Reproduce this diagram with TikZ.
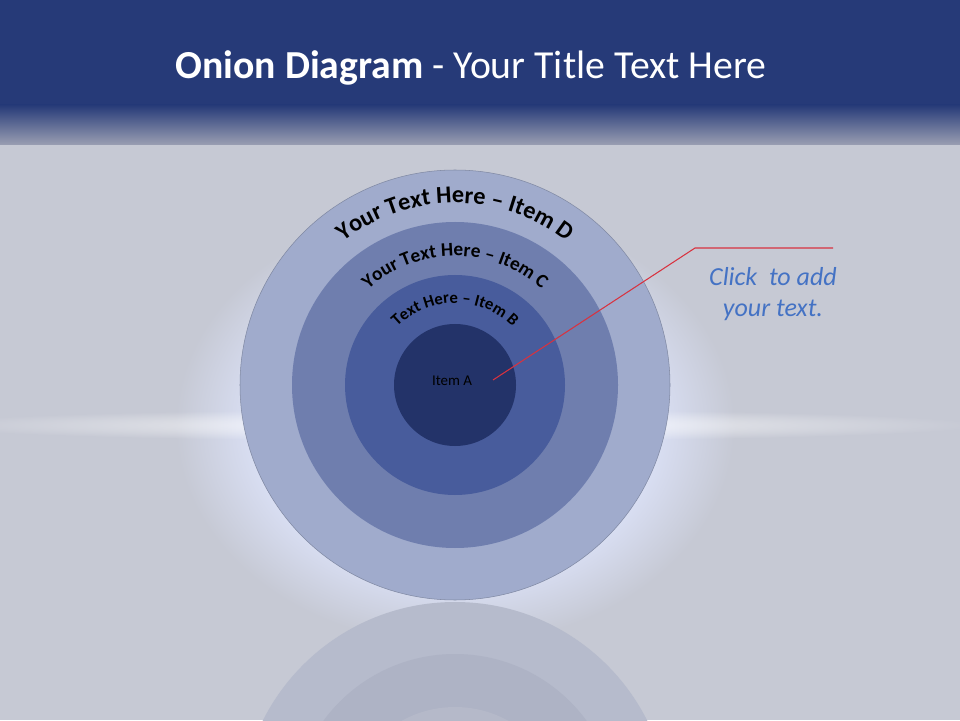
\documentclass[tikz,border=0pt]{standalone}
\usepackage{fontspec}
\setmainfont{Carlito}
\usetikzlibrary{decorations.text,fadings}
\definecolor{slidebg}{HTML}{C6C9D4}
\definecolor{headblue}{HTML}{263A78}
\definecolor{headlow}{HTML}{9A9EB2}
\definecolor{glow}{HTML}{DCE2F8}
\definecolor{ringD}{HTML}{A0ABCC}
\definecolor{ringC}{HTML}{6F7EAE}
\definecolor{ringB}{HTML}{485C9C}
\definecolor{ringA}{HTML}{233369}
\definecolor{reflD}{HTML}{B6BBCC}
\definecolor{reflC}{HTML}{AEB3C5}
\definecolor{reflB}{HTML}{B5B9C9}
\definecolor{pointer}{HTML}{D8323F}
\definecolor{clicktext}{HTML}{4472C4}
\pgfdeclareradialshading{halomask}{\pgfpointorigin}{color(0bp)=(white); color(17bp)=(white); color(25bp)=(black); color(50bp)=(black)}
\pgfdeclarefading{halofade}{\pgfuseshading{halomask}}
\tikzfading[name=streakfade, inner color=transparent!0, outer color=transparent!100]

\begin{document}
\begin{tikzpicture}
        \useasboundingbox (0,0) rectangle (19.2,14.4);
        \clip (0,0) rectangle (19.2,14.4);
        \coordinate (O) at (9.1,6.7);
        \coordinate (M) at (9.1,-1.94);
        % background and glow
        \fill[slidebg] (0,0) rectangle (19.2,14.4);
        \fill[glow, path fading=halofade] (9.1,5.9) ellipse (5.6 and 4.4);
        \fill[white, path fading=streakfade, fill opacity=0.8] (9.1,5.9) ellipse (10.5 and 0.32);
        % header band
        \fill[headblue] (0,12.3) rectangle (19.2,14.4);
        \shade[top color=headblue, bottom color=headlow] (0,11.5) rectangle (19.2,12.3);
        \node[white, font=\fontsize{22.6}{26}\selectfont] (title) at (9.42,13.04)
            {\textbf{Onion Diagram} - Your Title Text Here};
        % reflection
        \fill[reflD] (M) circle (4.3);
        \fill[reflC] (M) circle (3.26);
        \fill[reflB] (M) circle (2.2);
        % onion rings
        \fill[ringD, draw=ringD!80!black, line width=0.3pt] (O) circle (4.3);
        \fill[ringC] (O) circle (3.26);
        \fill[ringB] (O) circle (2.2);
        \fill[ringA] (O) circle (1.22);
        \path[decorate, decoration={text along path, text align=center,
            text={|\fontsize{13.8}{15}\selectfont\bfseries|Your Text Here – Item D}}]
            (O) ++(180:3.64) arc (180:0:3.64);
        \path[decorate, decoration={text along path, text align=center,
            text={|\fontsize{11}{12}\selectfont\bfseries|Your Text Here – Item C}}]
            (O) ++(180:2.58) arc (180:0:2.58);
        \path[decorate, decoration={text along path, text align=center,
            text={|\fontsize{9.5}{10}\selectfont\bfseries|Text Here – Item B}}]
            (O) ++(180:1.64) arc (180:0:1.64);
        \node[font=\fontsize{8.5}{10}\selectfont, text=black] (itemA) at (9.04,6.78) {Item A};
        % callout
        \coordinate (tip) at (9.86,6.8);
        \coordinate (elbow) at (13.9,9.44);
        \coordinate (tail) at (16.66,9.44);
        \draw[pointer, line width=0.6pt] (tip) -- (elbow) -- (tail);
        \node[clicktext, align=center, font=\fontsize{14.8}{18.1}\selectfont\itshape] (click) at (15.46,8.52)
            {Click\ \ to add\\your text.};
    \end{tikzpicture}
\end{document}
